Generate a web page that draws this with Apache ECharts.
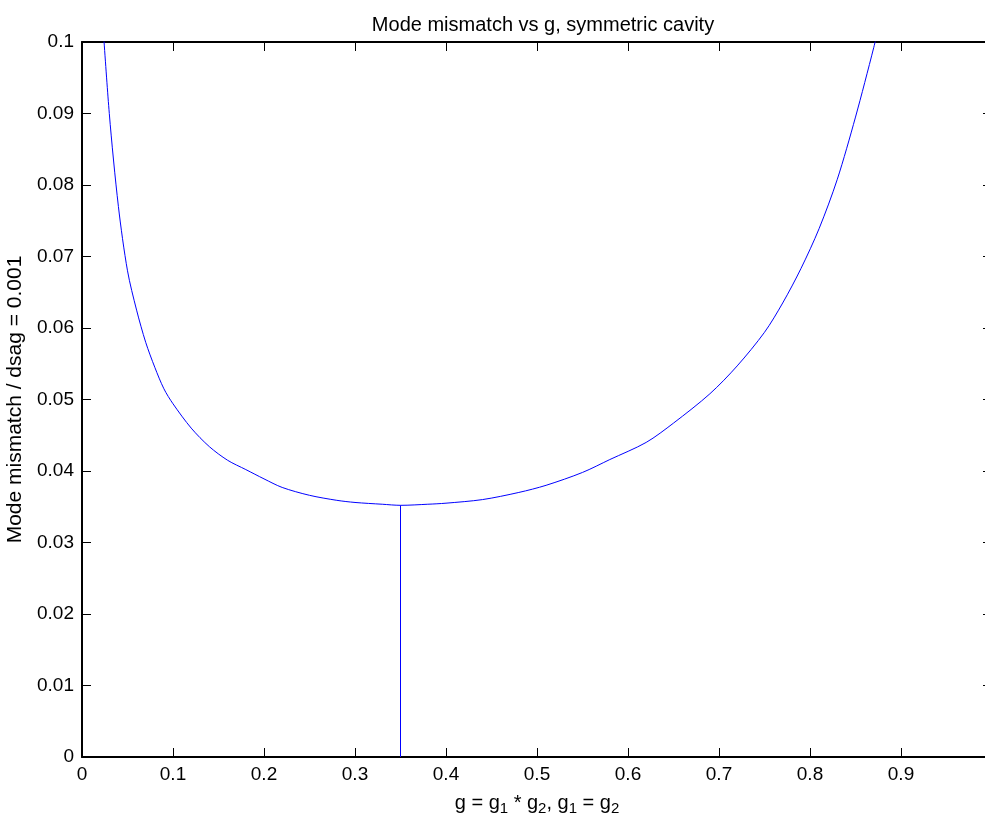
<!DOCTYPE html>
<html>
<head>
<meta charset="utf-8">
<script src="https://cdn.jsdelivr.net/npm/echarts@6/dist/echarts.min.js"></script>
<style>
html, body { margin: 0; padding: 0; background: #fff; }
#draw_area { width: 985px; height: 814px; }
</style>
</head>
<body>
<div id="draw_area"></div>
<script>
"use strict";

// g values (x) and mismatch values (y)
var g_values = [0.02, 0.03, 0.04, 0.05, 0.06, 0.07, 0.08, 0.09, 0.10, 0.12,
    0.14, 0.16, 0.18, 0.20, 0.22, 0.25, 0.28, 0.30, 0.33, 0.35,
    0.38, 0.40, 0.44, 0.48, 0.51, 0.55, 0.58, 0.62, 0.65, 0.69,
    0.72, 0.75, 0.77, 0.79, 0.81, 0.83, 0.85, 0.87, 0.88];
var mismatch_values = [0.108, 0.0900, 0.0770, 0.0680, 0.0625, 0.0580, 0.0545, 0.0515, 0.0494, 0.0460,
    0.0434, 0.0415, 0.0402, 0.0389, 0.0377, 0.0366, 0.0359, 0.0356, 0.03535, 0.0352,
    0.03535, 0.0355, 0.0360, 0.0370, 0.0380, 0.0398, 0.0416, 0.0440, 0.0467, 0.0508,
    0.0547, 0.0594, 0.0635, 0.0683, 0.0739, 0.0808, 0.0895, 0.0992, 0.1045];

// 最小值处的竖线
var min_g = [0.35, 0.35];
var min_line = [0, 0.0352];

var font = "'Liberation Sans', Arial, sans-serif";

var curve = g_values.map(function (g, i) { return [g, mismatch_values[i]]; });
var vline = min_g.map(function (g, i) { return [g, min_line[i]]; });

function axis_base(pos, show_label) {
    return {
        type: 'value',
        position: pos,
        min: 0,
        splitLine: { show: false },
        axisLine: { show: true, onZero: false, lineStyle: { color: '#000', width: 2 } },
        axisTick: { show: true, inside: true, length: 9, lineStyle: { color: '#000', width: 1 } },
        axisLabel: { show: show_label, color: '#000', fontFamily: font, fontSize: 19, margin: 8 }
    };
}

var x_bottom = axis_base('bottom', true);
x_bottom.max = 1;
x_bottom.interval = 0.1;
x_bottom.name = '{n|g = g}{s|1}{n| * g}{s|2}{n|, g}{s|1}{n| = g}{s|2}';
x_bottom.nameLocation = 'middle';
x_bottom.nameGap = 34;
x_bottom.nameTextStyle = {
    rich: {
        n: { fontFamily: font, fontSize: 20, color: '#000' },
        s: { fontFamily: font, fontSize: 15, color: '#000', verticalAlign: 'bottom', padding: [10, 0, 0, 0] }
    }
};
x_bottom.axisLabel.formatter = function (v) { return String(+v.toFixed(1)); };

var x_top = axis_base('top', false);
x_top.max = 1;
x_top.interval = 0.1;

var y_left = axis_base('left', true);
y_left.max = 0.1;
y_left.interval = 0.01;
y_left.name = 'Mode mismatch / dsag = 0.001';
y_left.nameLocation = 'middle';
y_left.nameGap = 48;
y_left.nameTextStyle = { fontFamily: font, fontSize: 21, color: '#000' };
y_left.axisLabel.formatter = function (v) { return String(+v.toFixed(2)); };

var y_right = axis_base('right', false);
y_right.max = 0.1;
y_right.interval = 0.01;

const option = {
    animation: false,
    backgroundColor: '#fff',
    title: {
        text: 'Mode mismatch vs g, symmetric cavity',
        left: 538,
        textAlign: 'center',
        top: 10,
        textStyle: { fontFamily: font, fontSize: 20, fontWeight: 'normal', color: '#000' }
    },
    grid: { left: 82, right: -7, top: 42, bottom: 57, containLabel: false, outerBoundsMode: 'none' },
    xAxis: [x_bottom, x_top],
    yAxis: [y_left, y_right],
    series: [
        {
            type: 'line',
            data: curve,
            xAxisIndex: 0,
            yAxisIndex: 0,
            showSymbol: false,
            clip: true,
            smooth: 0.3,
            lineStyle: { color: '#0000ff', width: 1 }
        },
        {
            type: 'line',
            data: vline,
            xAxisIndex: 0,
            yAxisIndex: 0,
            showSymbol: false,
            lineStyle: { color: '#0000ff', width: 1 }
        }
    ]
};

var chart_object = echarts.init(document.getElementById('draw_area'));
chart_object.setOption(option);
</script>
</body>
</html>
